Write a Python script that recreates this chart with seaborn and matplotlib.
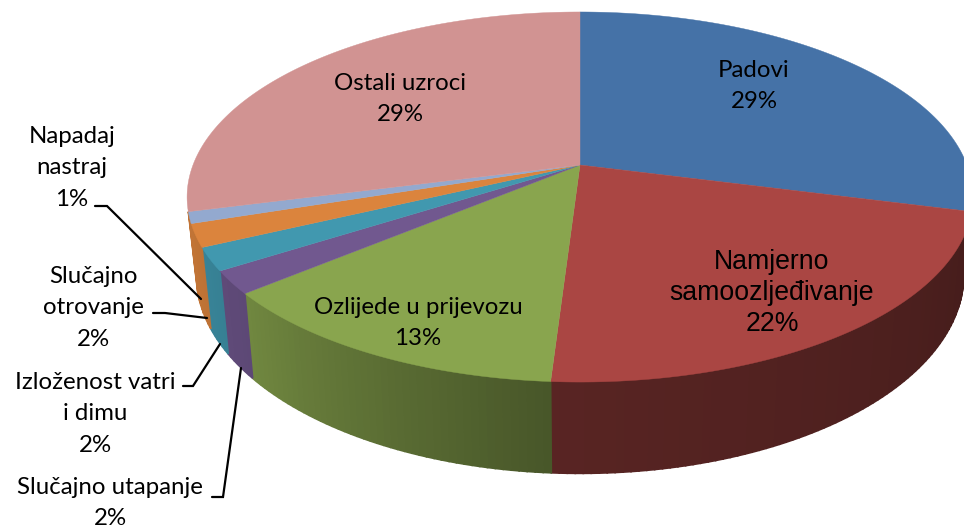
import numpy as np
import seaborn as sns
import matplotlib.pyplot as plt

categories = ['Padovi', 'Namjerno\nsamoozljeđivanje', 'Ozlijede u prijevozu',
              'Slučajno utapanje', 'Izloženost vatri\ni dimu',
              'Slučajno\notrovanje', 'Napadaj\nnastraj', 'Ostali uzroci']
values = [29, 22, 13, 2, 2, 2, 1, 29]
colors = ['#4572A7', '#AA4643', '#89A54E', '#71588F',
          '#4198AF', '#DB843D', '#93A9CF', '#D19392']

sns.set_style('white')
plt.rcParams['font.family'] = ['Lato', 'DejaVu Sans']

fig = plt.figure(figsize=(9.64, 5.31), dpi=100)
ax = fig.add_axes([0, 0, 1, 1])
ax.set_xlim(0, 964)
ax.set_ylim(531, 0)
ax.axis('off')


# perspective view of a flat disc, angle is clockwise from the top
def project(deg, a, b, cy, cx=580, p=0.173):
    rad = np.radians(deg)
    u, v = np.sin(rad), -np.cos(rad)
    return cx + a * u / (1 - p * v), cy + b * v / (1 - p * v)


def top(deg):
    return project(deg, 387, 179.5, 165)


def bottom(deg):
    return project(deg, 378, 193, 240)


# how dark the side wall gets going round the front
shade_angle = [100, 183, 230, 240, 252, 260]
shade_value = [0.40, 0.52, 0.82, 0.85, 0.88, 0.88]

edges = np.cumsum([0] + values) * 3.6

# side walls first, cut in thin strips for the gradient
# the thin napadaj wall is hardly seen, so the orange one runs over it
for i in range(1, 6):
    start, end = edges[i], edges[i + 1]
    if i == 5:
        end = edges[i + 2]
    steps = np.linspace(start, end, max(int(end - start), 2) + 1)
    base = np.array(sns.desaturate(colors[i], 1.0))
    for a0, a1 in zip(steps[:-1], steps[1:]):
        xt, yt = top(np.array([a0, a1]))
        xb, yb = bottom(np.array([a1, a0]))
        col = base * np.interp((a0 + a1) / 2, shade_angle, shade_value)
        ax.fill(np.r_[xt, xb], np.r_[yt, yb], color=col, lw=1.2, zorder=2)

# top of the pie
for i, col in enumerate(colors):
    arc = np.linspace(edges[i], edges[i + 1], 120)
    x, y = top(arc)
    ax.fill(np.r_[580, x], np.r_[165, y], color=col, lw=0.3, zorder=3)

# labels inside
inside = {0: (754, 86), 1: (772, 293), 2: (418, 323), 7: (400, 99)}
for i, (x, y) in inside.items():
    if i == 1:
        ax.text(x, y, f'{categories[i]}\n{values[i]}%', ha='center', va='center',
                fontsize=19.2, family='Liberation Sans', color='black',
                linespacing=1.26, zorder=5)
    else:
        ax.text(x, y, f'{categories[i]}\n{values[i]}%', ha='center', va='center',
                fontsize=17.3, color='black', linespacing=1.64, zorder=5)

# labels outside with leader lines
outside = {6: (72, 168), 5: (93, 308), 4: (95, 414), 3: (110, 503)}
for i, (x, y) in outside.items():
    ax.text(x, y, f'{categories[i]}\n{values[i]}%', ha='center', va='center',
            fontsize=17.3, color='black', linespacing=1.64, zorder=5)

leaders = [([95, 107, 201], [206, 206, 299]),
           ([153, 165, 207], [313, 313, 318]),
           ([183, 193, 220], [386, 386, 344]),
           ([212, 223, 241], [497, 497, 368])]
for lx, ly in leaders:
    ax.plot(lx, ly, color='black', lw=1.6, zorder=4, solid_joinstyle='miter')

fig.savefig('out.png', dpi=100)
